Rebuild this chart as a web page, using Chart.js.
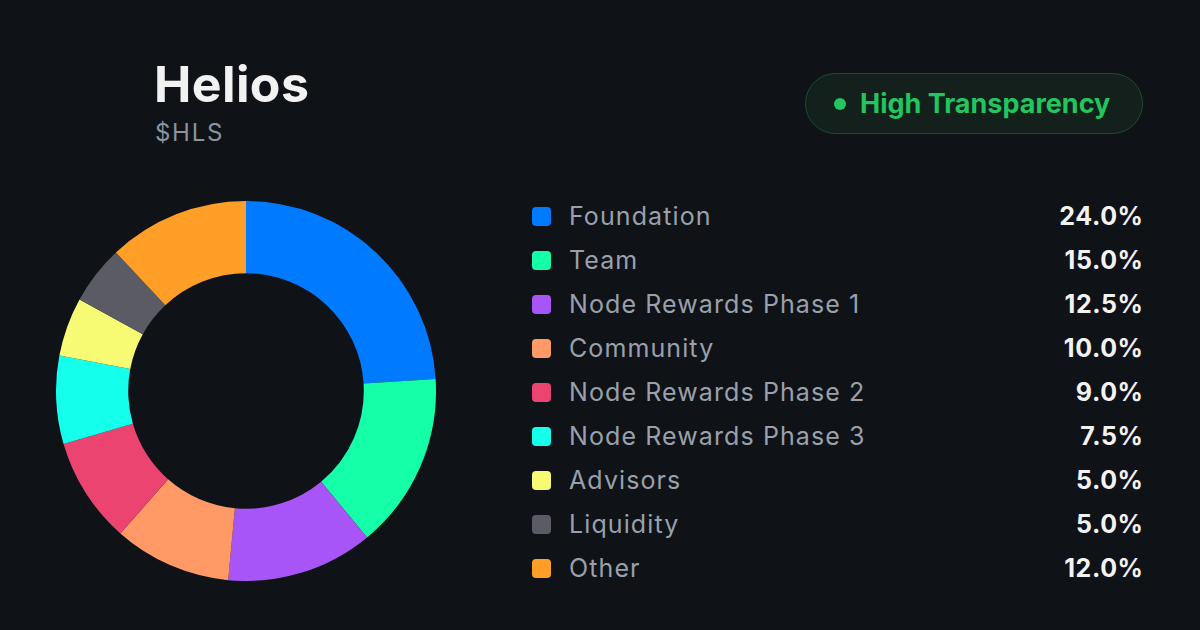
<!DOCTYPE html>
<html>
<head>
<meta charset="utf-8">
<script src="https://cdn.jsdelivr.net/npm/chart.js@4/dist/chart.umd.min.js"></script>
<style>
  html, body { margin: 0; padding: 0; }
  body {
    width: 1200px; height: 630px; overflow: hidden;
    background: #0f1217;
    font-family: Inter, "Noto Sans", sans-serif;
    position: relative;
  }
  .title { position: absolute; left: 154px; top: 54px; font-size: 50px; font-weight: 700; color: #f2f2f3; letter-spacing: 0.4px; }
  .ticker { position: absolute; left: 155px; top: 118px; font-size: 24px; color: #8c93a0; letter-spacing: 1.7px; }
  .badge {
    position: absolute; left: 805px; top: 73px; width: 338px; height: 61px; box-sizing: border-box;
    border: 1px solid #1f4a31; border-radius: 31px; background: #13201c;
    display: flex; align-items: center;
  }
  .badge .dot { width: 12px; height: 12px; border-radius: 50%; background: #22c55e; margin-left: 28px; margin-right: 14px; }
  .badge .txt { font-size: 27px; font-weight: 700; color: #22c55e; }
  .chart-box { position: absolute; left: 56px; top: 201px; width: 380px; height: 380px; }
  .legend { position: absolute; left: 532px; top: 194px; width: 611px; }
  .row { display: flex; align-items: center; height: 44px; }
  .sw { width: 19px; height: 19px; border-radius: 4px; margin-right: 18px; }
  .lbl { font-size: 25px; color: #9aa0ab; flex: 1; letter-spacing: 1.1px; }
  .pct { font-size: 25px; font-weight: 700; color: #f2f2f3; letter-spacing: 0.6px; margin-right: -0.6px; }
</style>
</head>
<body>
<div class="title">Helios</div>
<div class="ticker">$HLS</div>
<div class="badge"><div class="dot"></div><div class="txt">High Transparency</div></div>
<div class="chart-box"><canvas id="allocChart"></canvas></div>
<div class="legend" id="legend"></div>

<script>
const categories = ["Foundation", "Team", "Node Rewards Phase 1", "Community", "Node Rewards Phase 2",
    "Node Rewards Phase 3", "Advisors", "Liquidity", "Other"];
const shares = [24.0, 15.0, 12.5, 10.0, 9.0, 7.5, 5.0, 5.0, 12.0];
const sliceColors = ["#007aff", "#14ffa8", "#a855f7", "#ff9966", "#ec4470",
    "#14ffec", "#f7fb74", "#5b5b66", "#ff9f27"];

// legend rows built from the same arrays
const legend = document.getElementById('legend');
categories.forEach((name, i) => {
    const row = document.createElement('div');
    row.className = 'row';
    row.innerHTML = '<div class="sw" style="background:' + sliceColors[i] + '"></div>' +
        '<div class="lbl">' + name + '</div>' +
        '<div class="pct">' + shares[i].toFixed(1) + '%</div>';
    legend.appendChild(row);
});

const ctx = document.getElementById('allocChart').getContext('2d');
new Chart(ctx, {
    type: 'doughnut',
    data: {
        labels: categories,
        datasets: [{
            data: shares,
            backgroundColor: sliceColors,
            borderWidth: 0,
            hoverOffset: 0,
        }]
    },
    options: {
        responsive: true,
        maintainAspectRatio: false,
        animation: false,
        cutout: '62%',
        layout: { padding: 0 },
        plugins: {
            legend: { display: false },
            tooltip: { enabled: false },
        }
    }
});
</script>
</body>
</html>
